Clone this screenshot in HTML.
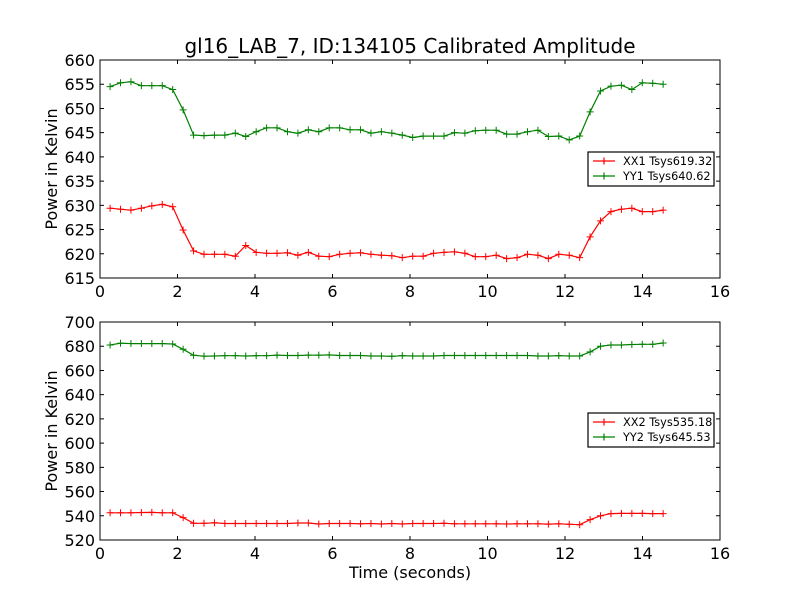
<!DOCTYPE html>
<html><head><meta charset="utf-8"><style>
body{margin:0;background:#fff;}
svg text{font-family:"DejaVu Sans","Liberation Sans",sans-serif;}
</style></head><body>
<svg id="chart" width="800" height="600" viewBox="0 0 800 600" xmlns="http://www.w3.org/2000/svg">
<rect width="800" height="600" fill="#fff"/>
<text x="410" y="53" font-size="20" text-anchor="middle">gl16_LAB_7, ID:134105 Calibrated Amplitude</text>
<text x="410" y="578" font-size="16" text-anchor="middle">Time (seconds)</text>
<g id="layer"></g>
</svg>
<script>
const xx1 = [629.4,629.2,629.0,629.4,629.9,630.2,629.7,624.9,620.6,619.9,619.9,619.9,619.5,621.7,620.3,620.1,620.1,620.2,619.7,620.3,619.5,619.4,619.9,620.1,620.2,619.9,619.7,619.6,619.2,619.5,619.5,620.1,620.3,620.4,620.1,619.4,619.4,619.7,619.0,619.2,619.9,619.7,619.0,619.9,619.7,619.2,623.5,626.8,628.7,629.2,629.4,628.7,628.7,629.0];
const yy1 = [654.5,655.3,655.5,654.7,654.7,654.7,653.9,649.7,644.5,644.4,644.5,644.5,644.9,644.2,645.2,646.0,646.0,645.2,644.9,645.6,645.2,646.0,646.0,645.6,645.6,644.9,645.2,644.9,644.5,644.0,644.3,644.3,644.3,645.0,644.9,645.4,645.5,645.5,644.7,644.7,645.2,645.5,644.2,644.3,643.5,644.3,649.3,653.6,654.6,654.8,653.9,655.3,655.2,655.0];
const xx2 = [542.5,542.5,542.5,542.7,542.8,542.5,542.5,538.5,533.8,533.8,534.2,533.6,533.6,533.6,533.6,533.6,533.6,533.6,534.0,534.0,533.2,533.6,533.6,533.6,533.4,533.6,533.2,533.6,533.2,533.6,533.6,533.6,533.8,533.4,533.4,533.4,533.4,533.4,533.2,533.4,533.4,533.4,533.1,533.4,533.0,532.6,536.8,540.0,541.8,542.0,542.0,542.0,541.8,541.8];
const yy2 = [681.0,682.5,682.2,682.2,682.2,682.2,681.8,677.5,672.5,671.8,671.9,672.2,672.2,671.9,672.2,672.2,672.6,672.3,672.3,672.6,672.6,672.8,672.3,672.3,672.3,671.9,671.9,671.7,672.2,671.9,671.9,671.9,672.3,672.3,672.3,672.3,672.3,672.3,672.3,672.3,672.3,671.9,671.9,672.2,671.9,671.9,675.3,680.0,681.0,681.0,681.4,681.6,681.6,682.7];
const xTicks = [0,2,4,6,8,10,12,14,16];
const yTicksTop = [615,620,625,630,635,640,645,650,655,660];
const yTicksBot = [520,540,560,580,600,620,640,660,680,700];
const legendTop = ["XX1 Tsys619.32","YY1 Tsys640.62"];
const legendBot = ["XX2 Tsys535.18","YY2 Tsys645.53"];
const t0 = 0.26, dt = 0.2693;

const NS = "http://www.w3.org/2000/svg";
const layer = document.getElementById('layer');
function mk(tag, attrs, parent){const e=document.createElementNS(NS,tag);for(const k in attrs)e.setAttribute(k,attrs[k]);(parent||layer).appendChild(e);return e;}

function panel(name, top, bottom, ymin, ymax, yTicks, series, labels, legY, legX){
  const L=100,R=720;
  const xs=v=>L+(v-0)/(16-0)*(R-L);
  const ys=v=>bottom-(v-ymin)/(ymax-ymin)*(bottom-top);
  const g=mk('g',{});
  
  
  const colors=['#ff0000','#008000'];
  series.forEach((s,si)=>{
    const pts=s.map((v,i)=>xs(t0+i*dt).toFixed(1)+','+ys(v).toFixed(1)).join(' ');
    const pl=mk('polyline',{points:pts,fill:'none',stroke:colors[si],'stroke-width':1.2},g);
    
    
    s.forEach((v,i)=>{
      const x=xs(t0+i*dt),y=ys(v);
      const m=mk('path',{d:`M${x-3.5},${y}H${x+3.5}M${x},${y-3.5}V${y+3.5}`,stroke:colors[si],'stroke-width':1},g);
      
      
    });
  });
  const fr=mk('rect',{x:L,y:top,width:R-L,height:bottom-top,fill:'none',stroke:'#000','stroke-width':1},g);
  
  
  xTicks.forEach(v=>{
    const x=xs(v);
    mk('path',{d:`M${x},${bottom}v-4M${x},${top}v4`,stroke:'#000'},g);
    const tx=mk('text',{x:x,y:bottom+19,'font-size':16,'text-anchor':'middle'},g);
    tx.textContent=v;
    
    
  });
  yTicks.forEach(v=>{
    const y=ys(v);
    mk('path',{d:`M${L},${y}h4M${R},${y}h-4`,stroke:'#000'},g);
    const tx=mk('text',{x:L-5,y:y+6,'font-size':16,'text-anchor':'end'},g);
    tx.textContent=v;
    
    
  });
  const yt=mk('text',{x:0,y:0,'font-size':16,'text-anchor':'middle',transform:`translate(57,${(top+bottom)/2}) rotate(-90)`},g);
  yt.textContent='Power in Kelvin';
  
  
  const lg=mk('g',{},g);
  
  
  mk('rect',{x:legX,y:legY,width:126,height:34,fill:'#fff',stroke:'#000','stroke-width':1.2},lg);
  labels.forEach((lab,i)=>{
    const y=legY+9+i*15;
    mk('path',{d:`M${legX+5},${y}h22M${legX+16},${y-3.5}v7`,stroke:colors[i],'stroke-width':1.2},lg);
    const tx=mk('text',{x:legX+35,y:y+4,'font-size':11.3},lg);
    tx.textContent=lab;
    
    
  });
}
panel('top-panel',60,278,615,660,yTicksTop,[xx1,yy1],legendTop,152,588);
panel('bottom-panel',322,540,520,700,yTicksBot,[xx2,yy2],legendBot,413,588);
</script>
</body></html>
